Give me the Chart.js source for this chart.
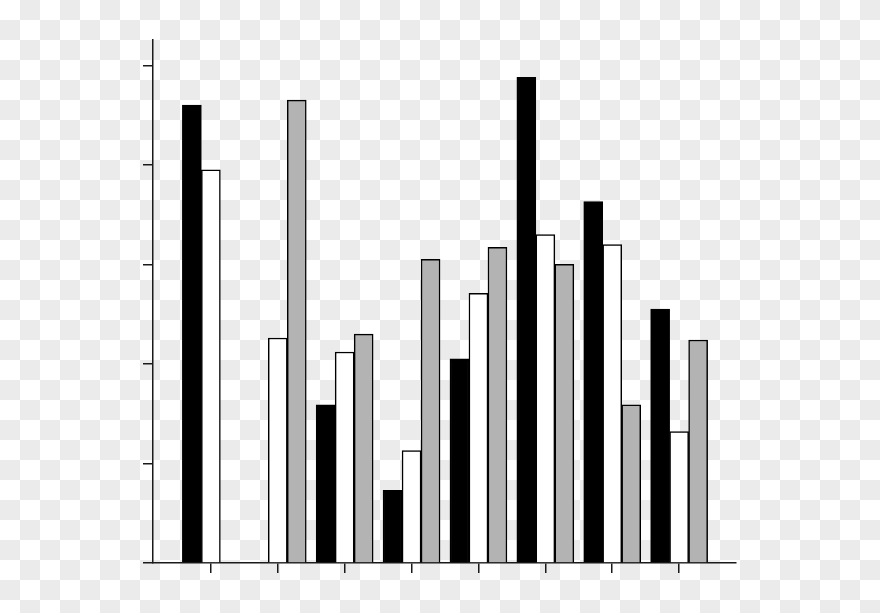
<!DOCTYPE html>
<html>
<head>
<meta charset="utf-8">
<script src="https://cdn.jsdelivr.net/npm/chart.js@4/dist/chart.umd.min.js"></script>
<style>
  html, body { margin: 0; padding: 0; }
  body {
    width: 880px;
    height: 613px;
    background: repeating-conic-gradient(#ebebeb 0 25%, #ffffff 0 50%) 0 0 / 40px 40px;
  }
  #wrap { position: relative; width: 880px; height: 613px; }
</style>
</head>
<body>
<div id="wrap"><canvas id="grafico"></canvas></div>
<script>
// grupos no eixo x (sem rótulos no original)
const grupos = [0, 1, 2, 3, 4, 5, 6, 7];
const ticksY = [0, 1, 2, 3, 4, 5];

// valores
const seriepreta = [4.60, null, 1.59, 0.73, 2.05, 4.88, 3.63, 2.55];
const seriebranca = [3.95, 2.26, 2.12, 1.13, 2.71, 3.30, 3.20, 1.32];
const seriecinza = [null, 4.65, 2.30, 3.05, 3.17, 3.00, 1.59, 2.24];

function pontos(valores) {
  return valores.map((v, i) => ({ x: grupos[i], y: v }));
}

const corEixo = "#1a1a1a";

const data1 = {
  datasets: [
    {
      label: "A",
      data: pontos(seriepreta),
      backgroundColor: "#000000",
      borderColor: "#000000",
      borderWidth: 1.5,
    },
    {
      label: "B",
      data: pontos(seriebranca),
      backgroundColor: "#ffffff",
      borderColor: "#000000",
      borderWidth: 1.5,
    },
    {
      label: "C",
      data: pontos(seriecinza),
      backgroundColor: "#b3b3b3",
      borderColor: "#000000",
      borderWidth: 1.5,
    },
  ],
};

const options1 = {
  responsive: true,
  maintainAspectRatio: false,
  animation: false,
  barThickness: 19,
  layout: {
    padding: { left: 143, right: 144, top: 40, bottom: 40 },
  },
  plugins: {
    legend: { display: false },
    tooltip: { enabled: false },
  },
  scales: {
    x: {
      type: "linear",
      offset: false,
      min: -0.865,
      max: 7.85,
      afterBuildTicks: (eixo) => {
        eixo.ticks = grupos.map((v) => ({ value: v }));
      },
      afterFit: (eixo) => {
        eixo.height = 10;
      },
      ticks: { display: false },
      grid: {
        offset: false,
        drawOnChartArea: false,
        drawTicks: true,
        tickLength: 10,
        color: corEixo,
        lineWidth: 1.5,
      },
      border: { display: true, color: corEixo, width: 1.5 },
    },
    y: {
      min: 0,
      max: 5.254,
      afterBuildTicks: (eixo) => {
        eixo.ticks = ticksY.map((v) => ({ value: v }));
      },
      afterFit: (eixo) => {
        eixo.width = 10;
      },
      ticks: { display: false },
      grid: {
        drawOnChartArea: false,
        drawTicks: true,
        tickLength: 10,
        color: corEixo,
        lineWidth: 1.5,
      },
      border: { display: true, color: corEixo, width: 1.5 },
    },
  },
};

const ctx1 = document.getElementById("grafico").getContext("2d");
const myChart1 = new Chart(ctx1, {
  type: "bar",
  data: data1,
  options: options1,
});
</script>
</body>
</html>
